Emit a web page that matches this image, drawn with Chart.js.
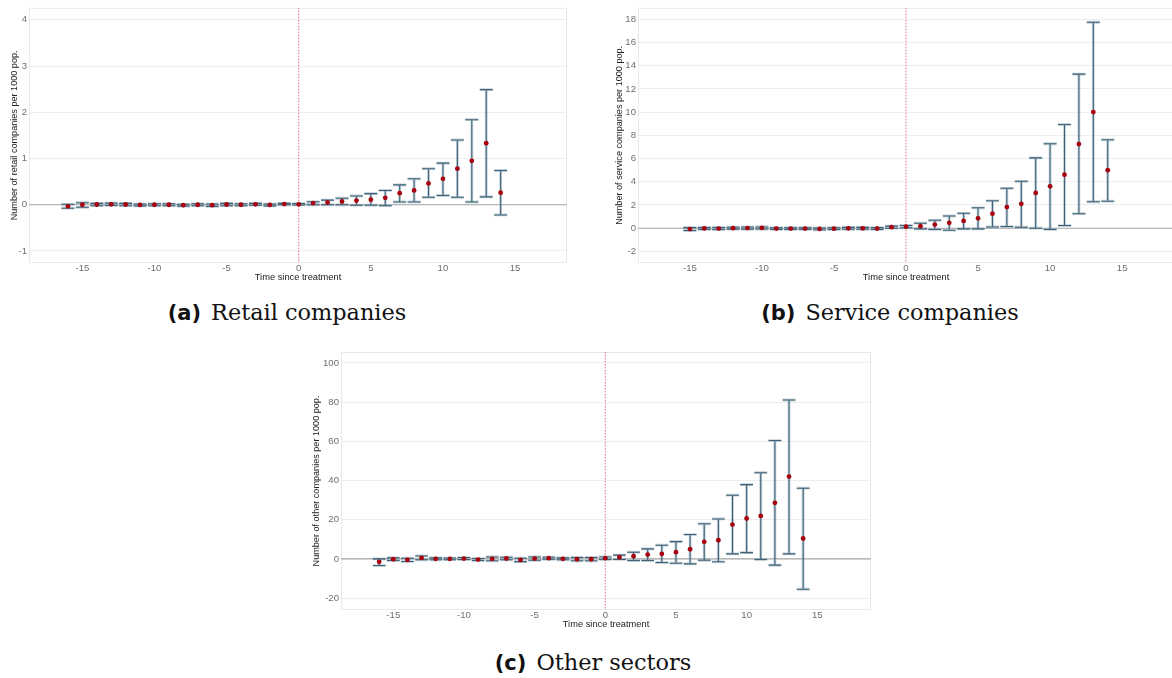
<!DOCTYPE html>
<html>
<head>
<meta charset="utf-8">
<script src="https://cdn.jsdelivr.net/npm/chart.js@4.4.0/dist/chart.umd.min.js"></script>
<style>
  html, body { margin: 0; padding: 0; background: #fff; width: 1172px; height: 678px; overflow: hidden; position: relative; }
  .panel { position: absolute; }
  .panel canvas { display: block; }
  .cap { position: absolute; transform: translate(-50%, -50%); white-space: nowrap;
         font-family: "DejaVu Serif", serif; font-size: 22.4px; color: #111; }
  .cap b { font-family: "DejaVu Sans", sans-serif; font-weight: bold; font-size: 21px; margin-right: 10px; }
</style>
</head>
<body>
<div class="panel" style="left:0px;top:0px;"><canvas id="retail" width="580" height="287"></canvas></div>
<div class="panel" style="left:600px;top:0px;"><canvas id="service" width="580" height="287"></canvas></div>
<div class="panel" style="left:300px;top:340px;"><canvas id="other" width="580" height="294"></canvas></div>

<div class="cap" style="left:287px;top:312px;"><b>(a)</b>Retail companies</div>
<div class="cap" style="left:890px;top:312px;"><b>(b)</b>Service companies</div>
<div class="cap" style="left:593px;top:662px;"><b>(c)</b>Other sectors</div>

<script>
// ---- Retail companies: periods -16 .. 14 ----
const retailPeriods = [-16,-15,-14,-13,-12,-11,-10,-9,-8,-7,-6,-5,-4,-3,-2,-1,0,1,2,3,4,5,6,7,8,9,10,11,12,13,14];
const retailEst = [-0.035,0.0,0.005,0.01,0.005,-0.005,0.0,0.0,-0.01,0.0,-0.01,0.005,0.0,0.01,-0.005,0.015,0.01,
                   0.036,0.05,0.07,0.09,0.11,0.15,0.25,0.31,0.46,0.56,0.78,0.95,1.33,0.26];
const retailLo  = [-0.075,-0.055,-0.02,-0.015,-0.02,-0.025,-0.02,-0.02,-0.03,-0.02,-0.035,-0.02,-0.02,-0.01,-0.025,0.0,-0.005,
                   0.0,0.0,0.0,-0.01,-0.01,-0.02,0.06,0.06,0.16,0.20,0.16,0.06,0.17,-0.22];
const retailHi  = [0.01,0.045,0.03,0.035,0.03,0.015,0.02,0.02,0.01,0.02,0.015,0.03,0.02,0.03,0.015,0.03,0.025,
                   0.064,0.10,0.14,0.19,0.24,0.31,0.43,0.56,0.78,0.90,1.40,1.84,2.49,0.74];
const retailYTicks = [-1, 0, 1, 2, 3, 4];

// ---- Service companies: periods -15 .. 14 ----
const servicePeriods = [-15,-14,-13,-12,-11,-10,-9,-8,-7,-6,-5,-4,-3,-2,-1,0,1,2,3,4,5,6,7,8,9,10,11,12,13,14];
const serviceEst = [-0.08,-0.02,-0.03,0.0,0.01,0.02,-0.03,-0.03,-0.03,-0.06,-0.04,-0.01,-0.01,-0.03,0.09,0.13,
                    0.17,0.31,0.46,0.63,0.85,1.25,1.82,2.10,3.04,3.61,4.61,7.25,10.01,5.00];
const serviceLo  = [-0.20,-0.10,-0.12,-0.08,-0.08,-0.07,-0.10,-0.10,-0.10,-0.14,-0.12,-0.09,-0.09,-0.11,0.0,0.03,
                    -0.06,-0.11,-0.17,-0.06,-0.06,0.11,0.14,0.09,0.0,-0.11,0.23,1.25,2.28,2.33];
const serviceHi  = [0.05,0.06,0.06,0.08,0.10,0.11,0.04,0.04,0.04,0.02,0.04,0.07,0.07,0.05,0.18,0.24,
                    0.43,0.68,1.05,1.28,1.76,2.36,3.44,4.04,6.06,7.28,8.93,13.28,17.75,7.62];
const serviceYTicks = [-2, 0, 2, 4, 6, 8, 10, 12, 14, 16, 18];

// ---- Other sectors: periods -16 .. 14 ----
const otherPeriods = [-16,-15,-14,-13,-12,-11,-10,-9,-8,-7,-6,-5,-4,-3,-2,-1,0,1,2,3,4,5,6,7,8,9,10,11,12,13,14];
const otherEst = [-1.5,-0.2,-0.5,0.5,0.0,0.0,0.15,-0.35,0.0,0.2,-0.5,0.15,0.35,0.0,-0.2,-0.2,0.35,
                  0.85,1.4,2.2,2.55,3.4,4.9,8.7,9.5,17.5,20.6,21.9,28.6,42.0,10.4];
const otherLo  = [-3.4,-0.85,-1.36,-0.5,-0.5,-0.4,-0.35,-0.85,-1.0,-0.5,-1.4,-0.7,-0.2,-0.5,-1.0,-1.0,-0.35,
                  -0.3,-0.85,-0.85,-1.9,-2.2,-2.55,-0.7,-1.5,2.55,3.2,-0.35,-3.2,2.55,-15.5];
const otherHi  = [0.0,0.5,0.35,1.5,0.5,0.4,0.65,0.15,1.0,0.85,0.35,1.0,0.85,0.5,0.7,0.7,1.0,
                  1.9,3.4,5.1,7.0,8.8,12.4,17.9,20.4,32.5,37.9,44.0,60.4,81.1,36.1];
const otherYTicks = [-20, 0, 20, 40, 60, 80, 100];

const xTicks = [-15, -10, -5, 0, 5, 10, 15];

const SANS = '"Liberation Sans", Arial, sans-serif';

// Draws panel frame, zero line, treatment line and confidence intervals
function eventStudyLayer(periods, lo, hi) {
  return {
    id: 'eventStudyLayer',
    beforeDatasetsDraw(chart) {
      const { ctx, chartArea: a, scales: { x, y } } = chart;
      ctx.save();
      ctx.beginPath();
      ctx.rect(a.left, a.top, a.width, a.height);
      ctx.clip();

      // panel frame
      ctx.strokeStyle = '#e9e9e9';
      ctx.lineWidth = 1;
      ctx.strokeRect(a.left + 0.5, a.top + 0.5, a.width - 1, a.height - 1);

      // horizontal reference at zero
      const y0 = y.getPixelForValue(0);
      ctx.strokeStyle = '#a6a6a6';
      ctx.lineWidth = 1.1;
      ctx.beginPath();
      ctx.moveTo(a.left, y0);
      ctx.lineTo(a.right, y0);
      ctx.stroke();

      // treatment onset
      const x0 = x.getPixelForValue(0);
      ctx.strokeStyle = '#e06a78';
      ctx.lineWidth = 1;
      ctx.setLineDash([1.5, 1.5]);
      ctx.beginPath();
      ctx.moveTo(x0, a.top);
      ctx.lineTo(x0, a.bottom);
      ctx.stroke();
      ctx.setLineDash([]);

      // confidence intervals: soft halo under a thin dark stroke
      const strokeBars = (color, width) => {
        ctx.strokeStyle = color;
        ctx.lineWidth = width;
        periods.forEach((p, i) => {
          const xc = x.getPixelForValue(p);
          const xl = x.getPixelForValue(p - 0.45);
          const xr = x.getPixelForValue(p + 0.45);
          const yl = y.getPixelForValue(lo[i]);
          const yh = y.getPixelForValue(hi[i]);
          ctx.beginPath();
          ctx.moveTo(xl, yh); ctx.lineTo(xr, yh);
          ctx.moveTo(xc, yh); ctx.lineTo(xc, yl);
          ctx.moveTo(xl, yl); ctx.lineTo(xr, yl);
          ctx.stroke();
        });
      };
      strokeBars('rgba(130,160,177,0.5)', 2.8);
      strokeBars('#3f6276', 1.05);
      ctx.restore();
    }
  };
}

function buildChart(id, cfg) {
  return new Chart(document.getElementById(id), {
    type: 'scatter',
    data: {
      datasets: [{
        data: cfg.periods.map((p, i) => ({ x: p, y: cfg.est[i] })),
        backgroundColor: '#a8000f',
        borderWidth: 0,
        pointRadius: 2.4,
        pointHoverRadius: 2.4
      }]
    },
    options: {
      responsive: false,
      devicePixelRatio: 1,
      animation: false,
      events: [],
      layout: { padding: cfg.padding },
      plugins: { legend: { display: false }, tooltip: { enabled: false } },
      scales: {
        x: {
          type: 'linear',
          min: cfg.xMin, max: cfg.xMax,
          afterBuildTicks: s => { s.ticks = xTicks.map(v => ({ value: v })); },
          afterFit: s => { s.height = cfg.xAxisH; },
          grid: { display: false, drawTicks: false },
          border: { display: false },
          ticks: { padding: 0, color: '#6f6f6f', font: { family: SANS, size: 9.6 }, maxRotation: 0 },
          title: { display: true, text: 'Time since treatment', color: '#222',
                   font: { family: SANS, size: 9.3 }, padding: { top: 0, bottom: cfg.xTitlePad } }
        },
        y: {
          type: 'linear',
          min: cfg.yMin, max: cfg.yMax,
          afterBuildTicks: s => { s.ticks = cfg.yTicks.map(v => ({ value: v })); },
          afterFit: s => { s.width = cfg.yAxisW; },
          grid: { color: '#eeeeee', lineWidth: 1, drawTicks: false },
          border: { display: false },
          ticks: { padding: 2, color: '#6f6f6f', font: { family: SANS, size: 9.6 } },
          title: { display: true, text: cfg.yTitle, color: '#222',
                   font: { family: SANS, size: 9.1 }, padding: { top: cfg.yTitlePad, bottom: 0 } }
        }
      }
    },
    plugins: [eventStudyLayer(cfg.periods, cfg.lo, cfg.hi)]
  });
}

buildChart('retail', {
  periods: retailPeriods, est: retailEst, lo: retailLo, hi: retailHi,
  yTicks: retailYTicks, yMin: -1.26, yMax: 4.26, xMin: -18.7, xMax: 18.6,
  yTitle: 'Number of retail companies per 1000 pop.',
  padding: { top: 5, left: 0, right: 13, bottom: 0 },
  yAxisW: 29, xAxisH: 24, yTitlePad: 9.5, xTitlePad: 4.4
});

buildChart('service', {
  periods: servicePeriods, est: serviceEst, lo: serviceLo, hi: serviceHi,
  yTicks: serviceYTicks, yMin: -3.0, yMax: 19.0, xMin: -18.6, xMax: 18.6,
  yTitle: 'Number of service companies per 1000 pop.',
  padding: { top: 5, left: 0, right: 6, bottom: 0 },
  yAxisW: 38, xAxisH: 24, yTitlePad: 14.5, xTitlePad: 4.4
});

buildChart('other', {
  periods: otherPeriods, est: otherEst, lo: otherLo, hi: otherHi,
  yTicks: otherYTicks, yMin: -26.1, yMax: 105.6, xMin: -18.7, xMax: 18.8,
  yTitle: 'Number of other companies per 1000 pop.',
  padding: { top: 12, left: 0, right: 9, bottom: 0 },
  yAxisW: 41, xAxisH: 24, yTitlePad: 11.5, xTitlePad: 4.4
});
</script>
</body>
</html>
